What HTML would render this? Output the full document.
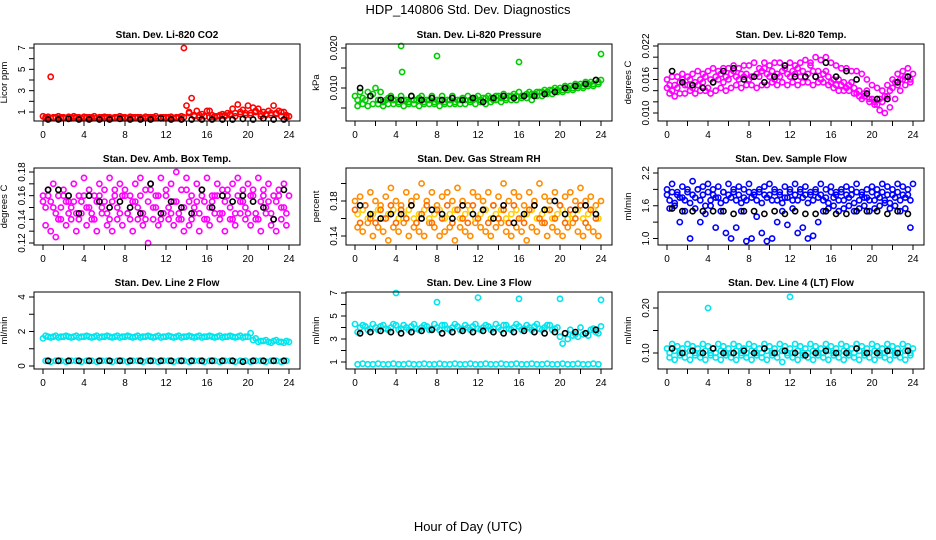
<!DOCTYPE html>
<html><head><meta charset="utf-8"><style>
html,body{margin:0;padding:0;background:#fff;}
svg{display:block;font-family:"Liberation Sans",Arial,sans-serif;}
</style></head><body>
<svg id="chart" width="936" height="540" viewBox="0 0 936 540">
<text x="468" y="14" text-anchor="middle" font-size="13">HDP_140806  Std. Dev. Diagnostics</text>
<text x="468" y="531" text-anchor="middle" font-size="13">Hour of Day (UTC)</text>
</svg>
<script>
const H49=[0,0.5,1,1.5,2,2.5,3,3.5,4,4.5,5,5.5,6,6.5,7,7.5,8,8.5,9,9.5,10,10.5,11,11.5,12,12.5,13,13.5,14,14.5,15,15.5,16,16.5,17,17.5,18,18.5,19,19.5,20,20.5,21,21.5,22,22.5,23,23.5,24];
const H48=[0.25,0.75,1.25,1.75,2.25,2.75,3.25,3.75,4.25,4.75,5.25,5.75,6.25,6.75,7.25,7.75,8.25,8.75,9.25,9.75,10.25,10.75,11.25,11.75,12.25,12.75,13.25,13.75,14.25,14.75,15.25,15.75,16.25,16.75,17.25,17.75,18.25,18.75,19.25,19.75,20.25,20.75,21.25,21.75,22.25,22.75,23.25,23.75];
const H24=[0.5,1.5,2.5,3.5,4.5,5.5,6.5,7.5,8.5,9.5,10.5,11.5,12.5,13.5,14.5,15.5,16.5,17.5,18.5,19.5,20.5,21.5,22.5,23.5];
const xTicks=[0,2,4,6,8,10,12,14,16,18,20,22,24];
const xTickLabels=["0","","4","","8","","12","","16","","20","","24"];

// Panel 1 CO2
const co2A=[0.6,0.55,0.5,0.6,0.5,0.55,0.6,0.5,0.55,0.5,0.6,0.5,0.55,0.5,0.5,0.6,0.5,0.55,0.5,0.5,0.55,0.5,0.6,0.5,0.5,0.55,0.5,0.6,1.6,2.3,1.1,0.8,1.1,0.7,0.6,0.8,0.9,1.3,1.7,1.2,1.6,1.4,1.3,1.0,1.1,1.6,1.1,1.0,0.6];
const co2B=[0.4,4.3,0.45,0.4,0.45,0.4,0.45,0.4,0.45,0.4,0.45,0.4,0.45,0.4,0.45,0.4,0.45,0.4,0.45,0.4,0.45,0.4,0.45,0.4,0.45,0.4,0.45,7.0,0.9,0.7,0.5,0.6,1.1,0.5,0.6,0.7,0.8,0.9,1.0,0.7,0.9,1.0,0.8,0.7,0.9,0.8,1.0,0.5];
const co2C=[0.5,0.45,0.5,0.5,0.45,0.5,0.5,0.45,0.5,0.5,0.45,0.5,0.5,0.45,0.5,0.5,0.45,0.5,0.5,0.45,0.5,0.5,0.45,0.5,0.5,0.45,0.5,0.5,1.0,0.6,0.7,0.6,0.5,0.6,0.7,0.6,0.7,0.6,0.8,0.9,0.7,1.1,0.6,0.8,0.7,0.9,0.6,0.7];
const co2K=[0.3,0.3,0.35,0.3,0.3,0.3,0.3,0.35,0.3,0.3,0.3,0.4,0.3,0.3,0.3,0.3,0.3,0.3,0.3,0.35,0.3,0.4,0.3,0.3];
// Panel 2 Pressure
const prA=[0.008,0.009,0.007,0.008,0.010,0.009,0.007,0.008,0.007,0.008,0.007,0.008,0.007,0.008,0.007,0.008,0.007,0.008,0.007,0.008,0.007,0.0075,0.008,0.007,0.008,0.0075,0.008,0.007,0.008,0.0085,0.008,0.0085,0.009,0.008,0.009,0.0085,0.009,0.0095,0.0095,0.010,0.010,0.0105,0.0105,0.011,0.011,0.0115,0.0115,0.012,0.012];
const prB=[0.0055,0.006,0.0055,0.006,0.006,0.0055,0.006,0.006,0.006,0.0055,0.006,0.006,0.0055,0.006,0.006,0.006,0.0055,0.006,0.006,0.006,0.006,0.006,0.0065,0.006,0.0065,0.006,0.0065,0.007,0.0065,0.007,0.007,0.007,0.0075,0.0075,0.007,0.008,0.008,0.0085,0.0085,0.009,0.009,0.0095,0.0095,0.010,0.010,0.0105,0.0105,0.011];
const prC=[0.007,0.0075,0.009,0.0085,0.007,0.0065,0.0075,0.007,0.0065,0.007,0.0065,0.007,0.0075,0.0065,0.007,0.0065,0.007,0.0065,0.007,0.0065,0.007,0.007,0.007,0.0075,0.007,0.0075,0.0075,0.008,0.0075,0.0075,0.008,0.008,0.008,0.0085,0.0085,0.009,0.009,0.009,0.0095,0.0095,0.0095,0.010,0.010,0.0105,0.0105,0.011,0.011,0.0115];
const prK=[0.010,0.008,0.007,0.0075,0.007,0.008,0.007,0.0075,0.007,0.0075,0.007,0.0075,0.0065,0.0075,0.008,0.0075,0.008,0.008,0.0085,0.009,0.010,0.0105,0.011,0.012];
const prOx=[4.5,4.6,8,16,24];
const prOy=[0.0205,0.014,0.018,0.0165,0.0185];
// Panel 3 Li-820 temp
const tA=[0.016,0.0165,0.0165,0.017,0.0165,0.017,0.0175,0.017,0.0175,0.018,0.0175,0.018,0.018,0.0185,0.018,0.0185,0.0185,0.019,0.018,0.019,0.0185,0.019,0.019,0.0185,0.019,0.0185,0.019,0.0195,0.019,0.020,0.0195,0.020,0.019,0.0185,0.018,0.018,0.0175,0.0175,0.017,0.016,0.015,0.0145,0.014,0.015,0.016,0.017,0.0175,0.018,0.017];
const tB=[0.0135,0.013,0.0135,0.0135,0.014,0.0135,0.014,0.014,0.0135,0.014,0.0145,0.014,0.0145,0.015,0.0145,0.015,0.015,0.0145,0.015,0.015,0.0155,0.015,0.0155,0.015,0.0155,0.015,0.0155,0.0155,0.015,0.0155,0.0155,0.015,0.0145,0.014,0.014,0.014,0.0135,0.013,0.013,0.012,0.0115,0.0105,0.010,0.011,0.0125,0.014,0.015,0.0155];
const tC=[0.015,0.015,0.0155,0.015,0.016,0.0155,0.016,0.0165,0.016,0.0165,0.017,0.0165,0.017,0.0165,0.017,0.017,0.0165,0.017,0.0175,0.017,0.0175,0.017,0.0175,0.017,0.0175,0.018,0.0175,0.017,0.0175,0.0175,0.017,0.0165,0.016,0.016,0.0155,0.015,0.0145,0.014,0.0135,0.0125,0.012,0.0125,0.013,0.014,0.0155,0.016,0.0165,0.016];
const tD=[0.0145,0.014,0.0145,0.016,0.015,0.0145,0.015,0.0155,0.0145,0.0155,0.016,0.0155,0.016,0.0175,0.016,0.0165,0.016,0.0165,0.0165,0.018,0.0165,0.016,0.0165,0.018,0.0165,0.017,0.0165,0.0165,0.0185,0.0165,0.016,0.0175,0.0155,0.015,0.015,0.0145,0.0155,0.0135,0.0125,0.014,0.0125,0.0115,0.012,0.013,0.0145,0.015,0.016,0.0165];
const tK=[0.0175,0.0155,0.015,0.0145,0.0155,0.0175,0.018,0.016,0.0165,0.0155,0.0165,0.0185,0.0165,0.0165,0.0165,0.019,0.0165,0.0175,0.016,0.0135,0.0125,0.0125,0.0155,0.0165];
// Panel 4 amb box temp
const aA=[0.16,0.165,0.17,0.16,0.165,0.155,0.17,0.16,0.175,0.165,0.16,0.17,0.165,0.175,0.16,0.17,0.165,0.16,0.17,0.175,0.165,0.17,0.16,0.175,0.165,0.17,0.18,0.165,0.175,0.16,0.17,0.165,0.175,0.16,0.17,0.165,0.16,0.17,0.175,0.165,0.17,0.16,0.175,0.165,0.17,0.16,0.165,0.17,0.16];
const aB=[0.135,0.13,0.125,0.14,0.135,0.14,0.13,0.145,0.135,0.14,0.13,0.145,0.135,0.13,0.14,0.135,0.145,0.13,0.14,0.135,0.12,0.14,0.135,0.145,0.14,0.135,0.14,0.13,0.135,0.145,0.13,0.14,0.135,0.145,0.14,0.13,0.14,0.135,0.145,0.14,0.135,0.14,0.13,0.145,0.135,0.13,0.14,0.135];
const aC=[0.15,0.155,0.145,0.15,0.155,0.15,0.145,0.155,0.15,0.145,0.155,0.15,0.145,0.155,0.15,0.16,0.145,0.155,0.15,0.145,0.155,0.15,0.16,0.145,0.15,0.155,0.145,0.15,0.155,0.15,0.145,0.155,0.15,0.16,0.145,0.155,0.15,0.145,0.155,0.15,0.16,0.145,0.155,0.15,0.145,0.155,0.15,0.145];
const aD=[0.155,0.16,0.15,0.14,0.16,0.145,0.155,0.14,0.16,0.15,0.14,0.16,0.155,0.14,0.165,0.145,0.16,0.14,0.155,0.16,0.14,0.165,0.15,0.14,0.16,0.145,0.155,0.14,0.165,0.14,0.155,0.16,0.14,0.155,0.16,0.145,0.165,0.14,0.16,0.155,0.145,0.165,0.14,0.16,0.155,0.14,0.16,0.15];
const aK=[0.165,0.165,0.16,0.145,0.16,0.155,0.15,0.155,0.15,0.145,0.17,0.145,0.155,0.15,0.145,0.165,0.15,0.16,0.155,0.16,0.155,0.15,0.14,0.165];
// Panel 5 gas stream RH
const rA=[0.18,0.185,0.175,0.19,0.18,0.175,0.185,0.195,0.18,0.175,0.19,0.18,0.185,0.2,0.18,0.19,0.175,0.185,0.19,0.18,0.195,0.18,0.175,0.19,0.185,0.18,0.19,0.175,0.185,0.2,0.18,0.19,0.185,0.175,0.19,0.18,0.2,0.185,0.18,0.19,0.175,0.185,0.19,0.18,0.195,0.18,0.185,0.175,0.18];
const rB=[0.15,0.145,0.155,0.14,0.15,0.145,0.135,0.15,0.145,0.155,0.14,0.15,0.145,0.14,0.155,0.15,0.14,0.145,0.15,0.135,0.15,0.145,0.14,0.155,0.15,0.145,0.14,0.15,0.155,0.145,0.14,0.15,0.145,0.135,0.15,0.145,0.155,0.14,0.15,0.145,0.14,0.15,0.155,0.145,0.14,0.15,0.145,0.14];
const rC=[0.165,0.17,0.16,0.165,0.17,0.16,0.165,0.17,0.16,0.165,0.17,0.16,0.165,0.17,0.16,0.165,0.17,0.16,0.165,0.17,0.16,0.165,0.17,0.16,0.165,0.17,0.16,0.165,0.17,0.16,0.165,0.17,0.16,0.165,0.17,0.16,0.165,0.17,0.16,0.165,0.17,0.16,0.165,0.17,0.16,0.165,0.17,0.16];
const rD=[0.17,0.155,0.175,0.16,0.155,0.17,0.16,0.175,0.155,0.17,0.16,0.175,0.155,0.165,0.175,0.155,0.17,0.16,0.175,0.155,0.17,0.16,0.155,0.175,0.16,0.17,0.155,0.175,0.16,0.17,0.155,0.175,0.16,0.155,0.17,0.175,0.16,0.155,0.17,0.16,0.175,0.155,0.17,0.16,0.175,0.155,0.17,0.16];
const rK=[0.175,0.165,0.16,0.165,0.165,0.175,0.16,0.17,0.165,0.16,0.175,0.165,0.17,0.16,0.175,0.155,0.165,0.175,0.17,0.18,0.165,0.17,0.175,0.165];
// Panel 6 sample flow
const bA=[1.9,2.0,1.85,1.95,1.9,2.05,1.9,1.95,2.0,1.9,1.95,1.85,2.0,1.9,1.95,1.9,2.0,1.85,1.9,1.95,2.0,1.9,1.85,1.95,1.9,2.0,1.9,1.95,1.85,1.9,2.0,1.9,1.95,1.85,1.9,1.95,1.9,2.0,1.85,1.9,1.95,1.9,2.0,1.95,1.9,2.0,1.95,1.9,2.0];
const bB=[1.7,1.65,1.75,1.7,1.65,1.75,1.7,1.6,1.7,1.75,1.65,1.7,1.75,1.7,1.65,1.7,1.75,1.7,1.65,1.75,1.7,1.7,1.65,1.75,1.7,1.7,1.75,1.65,1.7,1.75,1.7,1.65,1.75,1.7,1.7,1.75,1.65,1.7,1.75,1.7,1.7,1.75,1.7,1.65,1.75,1.7,1.75,1.7];
const bC=[1.55,1.6,1.3,1.5,1.0,1.55,1.3,1.45,1.6,1.2,1.5,1.1,1.0,1.2,1.5,0.95,1.0,1.4,1.1,0.95,1.0,1.3,1.5,1.25,1.55,1.1,1.2,1.0,1.05,1.3,1.5,1.55,1.6,1.5,1.55,1.6,1.5,1.55,1.6,1.5,1.55,1.6,1.65,1.55,1.6,1.5,1.55,1.2];
const bD=[1.8,1.85,1.8,1.75,1.85,1.8,1.9,1.8,1.85,1.8,1.75,1.85,1.8,1.85,1.8,1.75,1.85,1.8,1.85,1.8,1.8,1.85,1.8,1.75,1.85,1.8,1.85,1.8,1.8,1.85,1.8,1.75,1.85,1.8,1.85,1.8,1.8,1.85,1.8,1.75,1.85,1.8,1.85,1.8,1.8,1.85,1.8,1.8];
const bK=[1.55,1.5,1.5,1.5,1.5,1.5,1.45,1.5,1.5,1.45,1.5,1.45,1.5,1.45,1.45,1.5,1.45,1.45,1.5,1.5,1.5,1.45,1.5,1.45];
// Panel 7 line 2 flow
const l2A=[1.6,1.7,1.7,1.65,1.7,1.7,1.7,1.65,1.7,1.7,1.7,1.65,1.7,1.7,1.7,1.65,1.7,1.7,1.7,1.65,1.7,1.7,1.7,1.65,1.7,1.7,1.7,1.65,1.7,1.7,1.7,1.65,1.7,1.7,1.7,1.65,1.7,1.7,1.7,1.65,1.7,1.5,1.4,1.45,1.4,1.45,1.4,1.35,1.4];
const l2B=[0.3,0.25,0.3,0.3,0.25,0.3,0.3,0.25,0.3,0.3,0.25,0.3,0.3,0.25,0.3,0.3,0.25,0.3,0.3,0.25,0.3,0.3,0.25,0.3,0.3,0.25,0.3,0.3,0.25,0.3,0.3,0.25,0.3,0.3,0.25,0.3,0.3,0.25,0.3,0.3,0.25,0.3,0.3,0.25,0.3,0.3,0.25,0.3];
const l2C=[1.75,1.65,1.75,1.7,1.75,1.65,1.75,1.7,1.75,1.65,1.75,1.7,1.75,1.65,1.75,1.7,1.75,1.65,1.75,1.7,1.75,1.65,1.75,1.7,1.75,1.65,1.75,1.7,1.75,1.65,1.75,1.7,1.75,1.65,1.75,1.7,1.75,1.65,1.75,1.7,1.9,1.6,1.45,1.5,1.35,1.5,1.4,1.45];
const l2Ox=[4,8,12,16,20,24];
const l2Oy=[5.6,5.5,5.6,5.5,5.4,5.3];
const l2K=[0.3,0.3,0.3,0.3,0.3,0.3,0.3,0.3,0.3,0.3,0.3,0.3,0.3,0.3,0.3,0.3,0.3,0.3,0.3,0.25,0.3,0.3,0.3,0.3];
// Panel 8 line 3 flow
const l3A=[4.3,4.0,4.1,3.9,4.0,4.1,3.9,4.0,4.2,3.9,4.0,4.1,3.9,4.0,4.1,3.9,4.0,4.2,3.9,4.0,4.1,3.9,4.0,4.1,3.9,4.0,4.1,3.9,4.0,4.2,3.9,4.0,4.1,3.9,4.0,4.1,3.9,4.0,4.2,3.9,3.2,3.5,3.8,3.4,4.0,3.5,3.8,3.6,4.1];
const l3B=[0.8,0.85,0.8,0.8,0.85,0.8,0.8,0.85,0.8,0.8,0.85,0.8,0.8,0.85,0.8,0.8,0.85,0.8,0.8,0.85,0.8,0.8,0.85,0.8,0.8,0.85,0.8,0.8,0.85,0.8,0.8,0.85,0.8,0.8,0.85,0.8,0.8,0.85,0.8,0.8,0.85,0.8,0.8,0.85,0.8,0.8,0.85,0.8];
const l3C=[3.6,4.2,3.8,4.3,3.8,4.2,3.8,4.3,3.8,4.2,3.8,4.3,3.8,4.2,3.8,4.3,3.8,4.2,3.8,4.3,3.8,4.2,3.8,4.3,3.8,4.2,3.8,4.3,3.8,4.2,3.8,4.3,3.8,4.2,3.8,4.3,3.8,4.2,3.8,4.0,2.6,3.0,3.3,3.2,3.4,3.3,3.9,3.5];
const l3Ox=[4,8,12,16,20,24];
const l3Oy=[7.0,6.2,6.6,6.5,6.5,6.4];
const l3K=[3.5,3.6,3.7,3.6,3.5,3.6,3.7,3.8,3.5,3.6,3.7,3.6,3.7,3.6,3.5,3.6,3.7,3.6,3.5,3.6,3.5,3.6,3.5,3.8];
// Panel 9 line 4 flow
const l4A=[0.11,0.12,0.115,0.11,0.12,0.115,0.11,0.12,0.115,0.11,0.12,0.115,0.11,0.12,0.115,0.11,0.12,0.115,0.11,0.12,0.115,0.11,0.12,0.115,0.11,0.12,0.115,0.11,0.12,0.115,0.11,0.12,0.115,0.11,0.12,0.115,0.11,0.12,0.115,0.11,0.12,0.115,0.11,0.12,0.115,0.11,0.12,0.115,0.11];
const l4B=[0.09,0.085,0.095,0.09,0.085,0.095,0.09,0.085,0.095,0.09,0.085,0.095,0.09,0.085,0.095,0.09,0.085,0.095,0.09,0.085,0.095,0.09,0.08,0.095,0.09,0.085,0.095,0.09,0.085,0.095,0.09,0.085,0.095,0.09,0.085,0.095,0.09,0.085,0.095,0.09,0.085,0.095,0.09,0.085,0.095,0.09,0.085,0.095];
const l4C=[0.1,0.105,0.1,0.1,0.105,0.1,0.1,0.105,0.1,0.1,0.105,0.1,0.1,0.105,0.1,0.1,0.105,0.1,0.1,0.105,0.1,0.1,0.105,0.1,0.1,0.105,0.1,0.1,0.105,0.1,0.1,0.105,0.1,0.1,0.105,0.1,0.1,0.105,0.1,0.1,0.105,0.1,0.1,0.105,0.1,0.1,0.105,0.1];
const l4Ox=[4,12,20];
const l4Oy=[0.20,0.225,0.245];
const l4K=[0.11,0.1,0.105,0.1,0.11,0.1,0.1,0.105,0.1,0.11,0.1,0.105,0.1,0.095,0.1,0.105,0.1,0.1,0.11,0.1,0.1,0.105,0.1,0.105];

const panels=[
 {name:"co2",title:"Stan. Dev. Li-820 CO2",ylab:"Licor ppm",L:34,T:44,v1:1,p1:112,v2:7,p2:48,ticks:[1,2,3,4,5,6,7],lab:["1","","3","","5","","7"],
  series:[["#ff0000",H49,co2A],["#ff0000",H48,co2B],["#ff0000",H48,co2C],["#000",H24,co2K]]},
 {name:"pressure",title:"Stan. Dev. Li-820 Pressure",ylab:"kPa",L:346,T:44,v1:0.010,p1:88,v2:0.020,p2:48,ticks:[0.005,0.010,0.015,0.020],lab:["","0.010","","0.020"],
  series:[["#00cc00",H49,prA],["#00cc00",H48,prB],["#00cc00",H48,prC],["#00cc00",prOx,prOy],["#000",H24,prK]]},
 {name:"li820-temp",title:"Stan. Dev. Li-820 Temp.",ylab:"degrees C",L:658,T:44,v1:0.010,p1:113,v2:0.022,p2:46,ticks:[0.010,0.012,0.014,0.016,0.018,0.020,0.022],lab:["0.010","","","0.016","","","0.022"],
  series:[["#ff00ff",H49,tA],["#ff00ff",H48,tB],["#ff00ff",H48,tC],["#ff00ff",H49,tD],["#000",H24,tK]]},
 {name:"amb-box-temp",title:"Stan. Dev. Amb. Box Temp.",ylab:"degrees C",L:34,T:168,v1:0.12,p1:243,v2:0.18,p2:172,ticks:[0.12,0.13,0.14,0.15,0.16,0.17,0.18],lab:["0.12","","0.14","","0.16","","0.18"],
  series:[["#ff00ff",H49,aA],["#ff00ff",H48,aB],["#ff00ff",H48,aC],["#ff00ff",H49,aD],["#000",H24,aK]]},
 {name:"gas-stream-rh",title:"Stan. Dev. Gas Stream RH",ylab:"percent",L:346,T:168,v1:0.14,p1:236,v2:0.18,p2:201,ticks:[0.14,0.16,0.18,0.20],lab:["0.14","","0.18",""],
  series:[["#ff8c00",H49,rA],["#ff8c00",H48,rB],["#ffd000",H48,rC],["#ff6a00",H49,rD],["#000",H24,rK]]},
 {name:"sample-flow",title:"Stan. Dev. Sample Flow",ylab:"ml/min",L:658,T:168,v1:1.0,p1:238.5,v2:2.2,p2:173,ticks:[1.0,1.3,1.6,1.9,2.2],lab:["1.0","","1.6","","2.2"],
  series:[["#0000ff",H49,bA],["#0000ff",H48,bB],["#0000ff",H48,bC],["#0000ff",H49,bD],["#000",H24,bK]]},
 {name:"line2-flow",title:"Stan. Dev. Line 2 Flow",ylab:"ml/min",L:34,T:292,v1:0,p1:366,v2:4,p2:297,ticks:[0,1,2,3,4,5],lab:["0","","2","","4",""],
  series:[["#00e5ee",H49,l2A],["#00e5ee",H48,l2B],["#00e5ee",H48,l2C],["#00e5ee",l2Ox,l2Oy],["#000",H24,l2K]]},
 {name:"line3-flow",title:"Stan. Dev. Line 3 Flow",ylab:"ml/min",L:346,T:292,v1:1,p1:362,v2:7,p2:293,ticks:[1,2,3,4,5,6,7],lab:["1","","3","","5","","7"],
  series:[["#00e5ee",H49,l3A],["#00e5ee",H48,l3B],["#00e5ee",H48,l3C],["#00e5ee",l3Ox,l3Oy],["#000",H24,l3K]]},
 {name:"line4-flow",title:"Stan. Dev. Line 4 (LT) Flow",ylab:"ml/min",L:658,T:292,v1:0.10,p1:353,v2:0.20,p2:308,ticks:[0.10,0.15,0.20],lab:["0.10","","0.20"],
  series:[["#00e5ee",H49,l4A],["#00e5ee",H48,l4B],["#00e5ee",H48,l4C],["#00e5ee",l4Ox,l4Oy],["#000",H24,l4K]]}
];

const NS="http://www.w3.org/2000/svg";
const svg=document.getElementById("chart");
function mk(tag,attrs,parent,text){const e=document.createElementNS(NS,tag);for(const k in attrs)e.setAttribute(k,attrs[k]);if(text!==undefined)e.textContent=text;parent.appendChild(e);return e;}
const W=266,Hh=77;
panels.forEach(p=>{
  const g=mk("g",{},svg);
  
  
  const xs=h=>p.L+9+h*(246/24);
  const ys=v=>p.p1+(v-p.v1)*(p.p2-p.p1)/(p.v2-p.v1);
  const t=mk("text",{x:p.L+W/2,y:p.T-6,"text-anchor":"middle","font-size":"10","font-weight":"bold"},g,p.title);
  
  
  const yl=mk("text",{transform:`translate(${p.L-27},${p.T+Hh/2}) rotate(-90)`,"text-anchor":"middle","font-size":"9.5"},g,p.ylab);
  
  
  const pts=mk("g",{fill:"none","stroke-width":"1.6"},g);
  
  
  p.series.forEach(s=>{
    const n=Math.min(s[1].length,s[2].length);
    for(let i=0;i<n;i++){
      const y=ys(s[2][i]);
      if(y<p.T-2||y>p.T+Hh+2)continue;
      const c=mk("circle",{cx:xs(s[1][i]).toFixed(1),cy:y.toFixed(1),r:2.6,stroke:s[0]},pts);
      
      
    }
  });
  const box=mk("rect",{x:p.L,y:p.T,width:W,height:Hh,fill:"none",stroke:"#000","stroke-width":"1"},g);
  
  
  const ax=mk("g",{stroke:"#000","stroke-width":"1"},g);
  
  
  xTicks.forEach((h,i)=>{
    mk("line",{x1:xs(h),x2:xs(h),y1:p.T+Hh,y2:p.T+Hh+5},ax);
    if(xTickLabels[i]){const tl=mk("text",{x:xs(h),y:p.T+Hh+17,"text-anchor":"middle","font-size":"10",stroke:"none"},ax,xTickLabels[i]);
      
      }
  });
  const ay=mk("g",{stroke:"#000","stroke-width":"1"},g);
  
  
  p.ticks.forEach((v,i)=>{
    const y=ys(v);
    if(y<p.T-0.5||y>p.T+Hh+0.5)return;
    mk("line",{x1:p.L-5,x2:p.L,y1:y,y2:y},ay);
    if(p.lab[i]){const tl=mk("text",{transform:`translate(${p.L-9},${y}) rotate(-90)`,"text-anchor":"middle","font-size":"10",stroke:"none"},ay,p.lab[i]);
      
      }
  });
});
</script>
</body></html>
